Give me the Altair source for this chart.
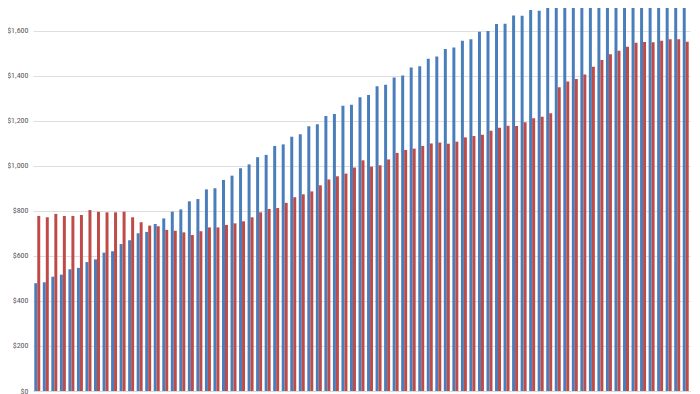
import altair as alt
import pandas as pd

periods = [str(i) for i in range(1, 78)]

blue_values = [
    479, 483, 508, 517, 541, 547, 573, 585, 615, 621,
    653, 670, 701, 707, 742, 767, 797, 807, 843, 853,
    896, 901, 938, 957, 990, 1007, 1039, 1049, 1089, 1096,
    1130, 1141, 1176, 1185, 1222, 1231, 1268, 1272, 1305, 1315,
    1354, 1361, 1393, 1402, 1438, 1443, 1477, 1486, 1520, 1526,
    1556, 1563, 1596, 1600, 1631, 1632, 1669, 1668, 1693, 1690,
    1714, 1713, 1735, 1729, 1760, 1755, 1780, 1775, 1800, 1790,
    1727, 1723, 1750, 1735, 1760, 1765, 1780,
]

red_values = [
    778, 772, 787, 778, 778, 782, 804, 797, 794, 794,
    797, 772, 750, 735, 732, 716, 712, 705, 693, 710,
    727, 727, 738, 745, 754, 772, 794, 809, 813, 836,
    861, 874, 887, 914, 940, 954, 966, 993, 1025, 997,
    1003, 1029, 1058, 1071, 1077, 1089, 1100, 1104, 1099, 1108,
    1127, 1133, 1139, 1156, 1170, 1179, 1178, 1194, 1212, 1219,
    1234, 1350, 1375, 1387, 1406, 1441, 1471, 1496, 1512, 1530,
    1548, 1551, 1550, 1557, 1563, 1563, 1552,
]

series_names = ["Series 1", "Series 2"]
series_colors = ["#4A7EBB", "#BE4B48"]
y_ticks = [0, 200, 400, 600, 800, 1000, 1200, 1400, 1600]

rows = []
for p, b, r in zip(periods, blue_values, red_values):
    rows.append({"period": p, "series": series_names[0], "value": b})
    rows.append({"period": p, "series": series_names[1], "value": r})
df = pd.DataFrame(rows)

chart = (
    alt.Chart(df)
    .mark_bar(clip=True)
    .encode(
        x=alt.X(
            "period:N",
            sort=periods,
            scale=alt.Scale(paddingInner=0.3, paddingOuter=0.15),
            axis=alt.Axis(labels=False, ticks=False, title=None, domain=True,
                          domainColor="#d9d9d9"),
        ),
        xOffset=alt.XOffset("series:N", sort=series_names),
        y=alt.Y(
            "value:Q",
            scale=alt.Scale(domain=[0, 1702], nice=False, zero=True),
            axis=alt.Axis(
                values=y_ticks,
                format="$,.0f",
                title=None,
                domain=False,
                ticks=False,
                grid=True,
                gridColor="#dedede",
                labelColor="#595959",
                labelFont="Liberation Sans Narrow, Roboto Condensed, Liberation Sans",
                labelFontSize=8,
                labelPadding=5,
            ),
        ),
        color=alt.Color(
            "series:N",
            sort=series_names,
            scale=alt.Scale(domain=series_names, range=series_colors),
            legend=None,
        ),
    )
    .properties(
        width=657,
        height=383,
        autosize=alt.AutoSizeParams(type="none"),
        padding={"left": 25, "top": 0, "right": 2, "bottom": 3},
    )
    .configure_view(stroke=None)
)

chart.save("out.html", embed_options={"renderer": "svg", "actions": False})
